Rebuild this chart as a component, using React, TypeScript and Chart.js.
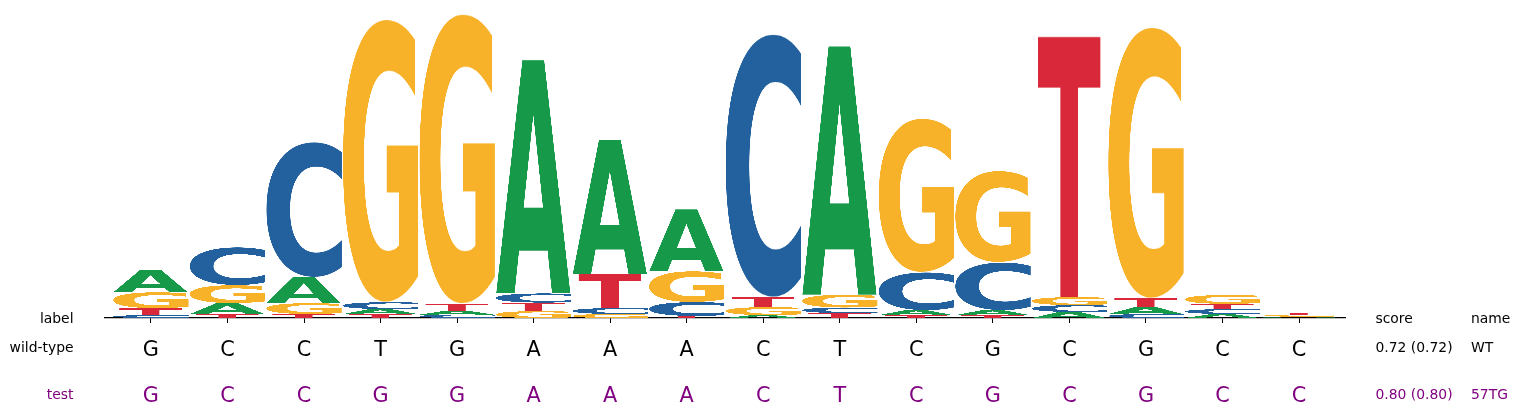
import React, { useEffect, useRef } from 'react';
import Chart, { ChartConfiguration } from 'chart.js/auto';

// logo columns (0-based positions) and per-base heights in bits
const positions = [0, 1, 2, 3, 4, 5, 6, 7, 8, 9, 10, 11, 12, 13, 14, 15];
const bases = ['A', 'C', 'G', 'T'];
const heightsA = [0.143, 0.071, 0.169, 0.032, 0.026, 1.526, 0.877, 0.403, 0.019, 1.623, 0.032, 0.032, 0.039, 0.045, 0.026, 0.006];
const heightsC = [0.019, 0.247, 0.883, 0.045, 0.022, 0.060, 0.039, 0.091, 1.721, 0.036, 0.247, 0.312, 0.045, 0.026, 0.032, 0.003];
const heightsG = [0.104, 0.117, 0.071, 1.851, 1.896, 0.045, 0.026, 0.201, 0.052, 0.084, 1.006, 0.597, 0.052, 1.773, 0.058, 0.010];
const heightsT = [0.045, 0.026, 0.026, 0.026, 0.045, 0.055, 0.221, 0.013, 0.065, 0.032, 0.019, 0.019, 1.701, 0.058, 0.034, 0.013];
const baseColors = ['#169a4a', '#22609e', '#f8b22a', '#d9283a'];

// sequence rows under the logo
const rowLabels = ['wild-type', 'test'];
const rowColors = ['#000000', '#800080'];
const wildType = ['G', 'C', 'C', 'T', 'G', 'A', 'A', 'A', 'C', 'T', 'C', 'G', 'C', 'G', 'C', 'C'];
const testSeq = ['G', 'C', 'C', 'G', 'G', 'A', 'A', 'A', 'C', 'T', 'C', 'G', 'C', 'G', 'C', 'C'];
const scores = ['0.72 (0.72)', '0.80 (0.80)'];
const names = ['WT', '57TG'];

const allHeights = [heightsA, heightsC, heightsG, heightsT];

// stack smallest letter at the bottom, like logomaker does
const buildFloating = () => {
  const out: { x: number; y: [number, number] }[][] = bases.map(() => []);
  positions.forEach((p, i) => {
    const order = bases.map((_, b) => b).sort((a, b) => allHeights[a][i] - allHeights[b][i]);
    let floor = 0;
    order.forEach(b => {
      const h = allHeights[b][i];
      out[b].push({ x: p, y: [floor, floor + h] });
      floor += h;
    });
  });
  return out;
};

interface Glyph {
  canvas: HTMLCanvasElement;
  sx: number;
  sy: number;
  sw: number;
  sh: number;
}

const makeGlyph = (letter: string, color: string): Glyph => {
  const canvas = document.createElement('canvas');
  canvas.width = 800;
  canvas.height = 800;
  const g = canvas.getContext('2d')!;
  g.font = 'bold 500px "DejaVu Sans"';
  g.fillStyle = color;
  g.textBaseline = 'alphabetic';
  const m = g.measureText(letter);
  g.fillText(letter, 150, 600);
  return {
    canvas,
    sx: 150 - m.actualBoundingBoxLeft,
    sy: 600 - m.actualBoundingBoxAscent,
    sw: m.actualBoundingBoxLeft + m.actualBoundingBoxRight,
    sh: m.actualBoundingBoxAscent + m.actualBoundingBoxDescent,
  };
};

const glyphPlugin = {
  id: 'logoGlyphs',
  afterDatasetsDraw(chart: Chart) {
    const ctx = chart.ctx;
    chart.data.datasets.forEach((_, di) => {
      const glyph = makeGlyph(bases[di], baseColors[di]);
      const meta = chart.getDatasetMeta(di);
      meta.data.forEach((bar: any) => {
        const { x, y, base, width } = bar.getProps(['x', 'y', 'base', 'width'], true);
        const top = Math.min(y, base);
        const h = Math.abs(base - y);
        if (h <= 0) return;
        // T is not stretched as wide as the other letters
        const w = width * (bases[di] === 'T' ? 0.845 : 1);
        ctx.drawImage(glyph.canvas, glyph.sx, glyph.sy, glyph.sw, glyph.sh, x - w / 2, top, w, h);
      });
    });
  },
};

const tablePlugin = {
  id: 'seqTable',
  afterDraw(chart: Chart) {
    const ctx = chart.ctx;
    const xs = chart.scales.x;
    const bottom = chart.chartArea.bottom;
    const small = '13.9px "DejaVu Sans"';
    ctx.save();
    ctx.textBaseline = 'alphabetic';

    // header row
    ctx.font = small;
    ctx.fillStyle = '#000';
    ctx.textAlign = 'right';
    ctx.fillText('label', 73.5, bottom + 5);
    ctx.textAlign = 'left';
    ctx.fillText('score', 1375.5, bottom + 5);
    ctx.fillText('name', 1471, bottom + 5);

    const rowOffsets = [34, 80.5];
    [wildType, testSeq].forEach((seq, r) => {
      const base = bottom + rowOffsets[r];
      ctx.fillStyle = rowColors[r];
      ctx.font = small;
      ctx.textAlign = 'right';
      ctx.fillText(rowLabels[r], 73.5, base);
      ctx.textAlign = 'left';
      ctx.fillText(scores[r], 1375.5, base);
      ctx.fillText(names[r], 1471, base);
      ctx.font = '20.8px "DejaVu Sans"';
      ctx.textAlign = 'center';
      seq.forEach((letter, i) => {
        ctx.fillText(letter, xs.getPixelForValue(positions[i]), base + 3.5);
      });
    });
    ctx.restore();
  },
};

const App: React.FC = () => {
  const chartRef = useRef<HTMLCanvasElement>(null);
  const chartInstance = useRef<Chart | null>(null);

  useEffect(() => {
    if (!chartRef.current) return;
    if (chartInstance.current) chartInstance.current.destroy();
    const ctx = chartRef.current.getContext('2d');
    if (!ctx) return;

    const floating = buildFloating();

    const config: ChartConfiguration = {
      type: 'bar',
      data: {
        datasets: bases.map((b, i) => ({
          label: b,
          data: floating[i] as any,
          backgroundColor: 'rgba(0,0,0,0)',
          borderWidth: 0,
          grouped: false,
          barPercentage: 0.99,
          categoryPercentage: 1,
        })),
      },
      options: {
        responsive: true,
        maintainAspectRatio: false,
        animation: false,
        events: [],
        layout: { padding: { left: 105, right: 175, top: 10, bottom: 92 } },
        plugins: {
          legend: { display: false },
          tooltip: { enabled: false },
        },
        scales: {
          x: {
            type: 'linear',
            min: -0.6,
            max: 15.6,
            offset: false,
            ticks: { display: false, stepSize: 1, includeBounds: false },
            grid: { drawOnChartArea: false, drawTicks: true, tickLength: 5, color: '#000', lineWidth: 1, offset: false },
            border: { display: true, color: '#000', width: 1.3 },
          },
          y: {
            display: false,
            min: 0,
            max: 2,
          },
        },
      },
      plugins: [glyphPlugin, tablePlugin],
    };

    chartInstance.current = new Chart(ctx, config);

    return () => {
      if (chartInstance.current) {
        chartInstance.current.destroy();
        chartInstance.current = null;
      }
    };
  }, []);

  return (
    <div style={{ position: 'fixed', left: 0, top: 0, width: '1520px', height: '415px', background: '#fff' }}>
      <canvas ref={chartRef} />
    </div>
  );
};

export default App;
